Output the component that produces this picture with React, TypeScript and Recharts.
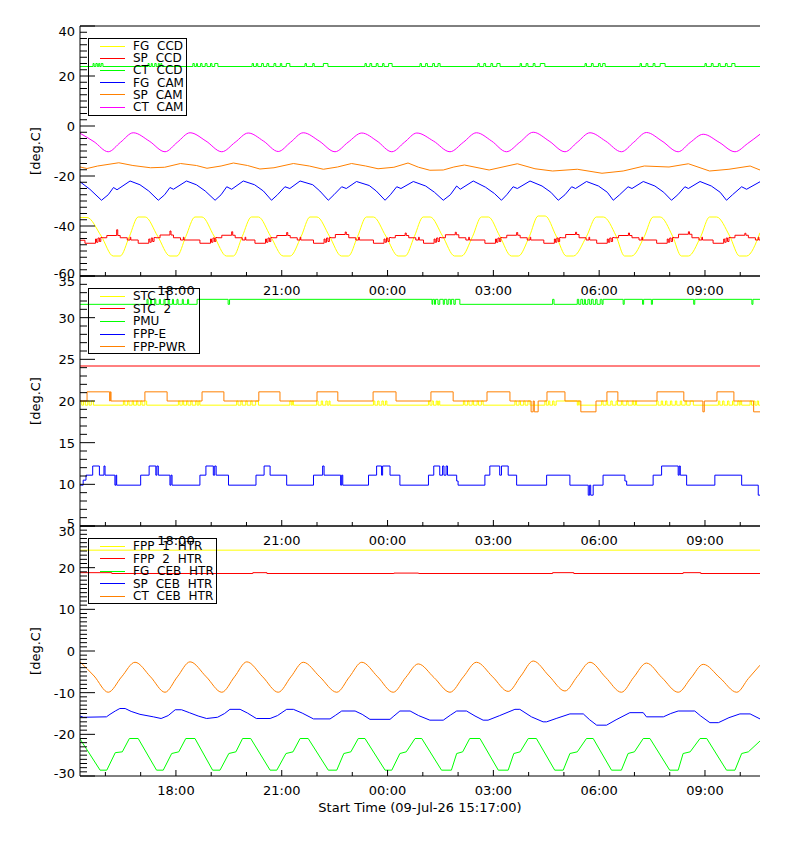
import React from 'react';
import { LineChart, Line, XAxis, YAxis, ReferenceLine, Legend } from 'recharts';

type Pt = [number, number];

const FONT = '"DejaVu Sans", sans-serif';
const START_MIN = 15 * 60 + 17; // 15:17
const T_END = 19.28; // hours after start
const X_LABEL = 'Start Time (09-Jul-26 15:17:00)';
const TIME_LABELS = ['18:00', '21:00', '00:00', '03:00', '06:00', '09:00'];

// ---- panel 1 (CCD / CAM) ----
const fgCcd: Pt[] = [[0,-36.6],[0.2,-36.6],[0.6,-44.0],[0.94,-52],[1.14,-52],[1.4,-44.2],[1.65,-36.4],[1.85,-36.4],[2.2,-44.0],[2.55,-52],[2.75,-52],[3.0,-44.2],[3.26,-36.4],[3.46,-36.4],[3.8,-44.0],[4.15,-52],[4.35,-52],[4.6,-44.2],[4.86,-36.4],[5.06,-36.4],[5.4,-44.0],[5.76,-52],[5.96,-52],[6.27,-44.2],[6.52,-36.4],[6.72,-36.4],[7.07,-44.0],[7.41,-52],[7.61,-52],[7.87,-44.2],[8.12,-36.4],[8.32,-36.4],[8.67,-44.0],[9.02,-52],[9.22,-52],[9.48,-44.2],[9.73,-36.4],[9.93,-36.4],[10.28,-44.0],[10.62,-52],[10.82,-52],[11.13,-44.2],[11.38,-36.4],[11.58,-36.4],[11.9,-44.0],[12.23,-52],[12.43,-52],[12.74,-44.2],[12.99,-36.0],[13.19,-36.0],[13.5,-44.0],[13.79,-52],[13.99,-52],[14.36,-44.2],[14.64,-36.4],[14.84,-36.4],[15.2,-44.0],[15.44,-52],[15.64,-52],[16.0,-44.2],[16.25,-36.4],[16.45,-36.4],[16.8,-44.0],[17.05,-52],[17.25,-52],[17.6,-44.2],[17.85,-36.4],[18.05,-36.4],[18.42,-44.0],[18.7,-52],[18.9,-52],[19.28,-42.7]];

const spCcd: Pt[] = [[0,-45.7],
  [0.14,-46.9],[0.44,-45.2],[0.47,-46.5],[0.51,-44.8],[0.55,-46.2],[0.59,-44.6],[0.64,-44.7],[0.76,-43.8],[1.04,-41.5],[1.07,-43.8],[1.14,-44.7],[1.34,-45.6],[1.42,-44.5],[1.44,-45.6],
  [1.65,-46.9],[1.95,-45.2],[1.98,-46.5],[2.02,-44.8],[2.06,-46.2],[2.10,-44.6],[2.15,-44.7],[2.27,-43.6],[2.55,-42.0],[2.58,-43.6],[2.65,-44.7],[2.85,-45.6],[2.93,-44.5],[2.95,-45.6],
  [3.40,-46.9],[3.70,-45.2],[3.73,-46.5],[3.77,-44.8],[3.81,-46.2],[3.85,-44.6],[3.90,-44.7],[4.02,-43.7],[4.30,-42.3],[4.33,-43.7],[4.40,-44.7],[4.60,-45.6],[4.68,-44.5],[4.70,-45.6],
  [4.96,-46.9],[5.26,-45.2],[5.29,-46.5],[5.33,-44.8],[5.37,-46.2],[5.41,-44.6],[5.46,-44.7],[5.58,-43.8],[5.86,-42.6],[5.89,-43.8],[5.96,-44.7],[6.16,-45.6],[6.24,-44.5],[6.26,-45.6],
  [6.62,-46.9],[6.92,-45.2],[6.95,-46.5],[6.99,-44.8],[7.03,-46.2],[7.07,-44.6],[7.12,-44.7],[7.24,-43.4],[7.52,-42.4],[7.55,-43.4],[7.62,-44.7],[7.82,-45.6],[7.90,-44.5],[7.92,-45.6],
  [8.32,-46.9],[8.62,-45.2],[8.65,-46.5],[8.69,-44.8],[8.73,-46.2],[8.77,-44.6],[8.82,-44.7],[8.94,-43.8],[9.22,-42.8],[9.25,-43.8],[9.32,-44.7],[9.52,-45.6],[9.60,-44.5],[9.62,-45.6],
  [9.74,-46.9],[10.04,-45.2],[10.07,-46.5],[10.11,-44.8],[10.15,-46.2],[10.19,-44.6],[10.24,-44.7],[10.36,-43.5],[10.64,-42.5],[10.67,-43.5],[10.74,-44.7],[10.94,-45.6],[11.02,-44.5],[11.04,-45.6],
  [11.48,-46.9],[11.78,-45.2],[11.81,-46.5],[11.85,-44.8],[11.89,-46.2],[11.93,-44.6],[11.98,-44.7],[12.10,-43.7],[12.38,-42.6],[12.41,-43.7],[12.48,-44.7],[12.68,-45.6],[12.76,-44.5],[12.78,-45.6],
  [13.15,-46.9],[13.45,-45.2],[13.48,-46.5],[13.52,-44.8],[13.56,-46.2],[13.60,-44.6],[13.65,-44.7],[13.77,-43.4],[14.05,-42.5],[14.08,-43.4],[14.15,-44.7],[14.35,-45.6],[14.43,-44.5],[14.45,-45.6],
  [14.65,-46.9],[14.95,-45.2],[14.98,-46.5],[15.02,-44.8],[15.06,-46.2],[15.10,-44.6],[15.15,-44.7],[15.27,-43.8],[15.55,-42.8],[15.58,-43.8],[15.65,-44.7],[15.85,-45.6],[15.93,-44.5],[15.95,-45.6],
  [16.35,-46.9],[16.65,-45.2],[16.68,-46.5],[16.72,-44.8],[16.76,-46.2],[16.80,-44.6],[16.85,-44.7],[16.97,-43.3],[17.25,-42.3],[17.28,-43.3],[17.35,-44.7],[17.55,-45.6],[17.63,-44.5],[17.65,-45.6],
  [17.95,-46.9],[18.25,-45.2],[18.28,-46.5],[18.32,-44.8],[18.36,-46.2],[18.40,-44.6],[18.45,-44.7],[18.57,-43.7],[18.85,-42.9],[18.88,-43.7],[18.95,-44.7],[19.15,-45.6],[19.23,-44.5],[19.25,-45.6],[19.28,-45.6]];

const ctCcd: Pt[] = [[0,23.8],
  [0.37,25],[0.40,23.8],[0.45,25],[0.49,23.8],[0.53,25],[0.56,23.8],[0.6,25],[0.65,23.8],
  [1.93,25],[1.96,23.8],[2.02,25],[2.05,23.8],[2.12,25],[2.16,23.8],[2.22,25],[2.25,23.8],[2.29,25],[2.32,23.8],
  [3.2,25],[3.24,23.8],[3.3,25],[3.33,23.8],[3.42,25],[3.46,23.8],[3.55,25],[3.6,23.8],[3.7,25],[3.74,23.8],[3.82,25],[3.91,23.8],
  [4.88,25],[4.92,23.8],[5.0,25],[5.04,23.8],[5.15,25],[5.2,23.8],[5.3,25],[5.35,23.8],[5.5,25],[5.55,23.8],[5.68,25],[5.72,23.8],[5.85,25],[5.95,23.8],
  [6.38,25],[6.42,23.8],[6.6,25],[6.64,23.8],[6.9,25],[7.03,23.8],
  [8.08,25],[8.12,23.8],[8.22,25],[8.27,23.8],[8.4,25],[8.45,23.8],[8.58,25],[8.62,23.8],[8.75,25],[8.85,23.8],
  [9.64,25],[9.68,23.8],[9.8,25],[9.85,23.8],[10.0,25],[10.05,23.8],[10.15,25],[10.21,23.8],
  [11.28,25],[11.32,23.8],[11.45,25],[11.5,23.8],[11.65,25],[11.7,23.8],[11.82,25],[11.91,23.8],
  [12.48,25],[12.52,23.8],[12.65,25],[12.7,23.8],[12.85,25],[12.9,23.8],[13.05,25],[13.18,23.8],
  [14.32,25],[14.36,23.8],[14.5,25],[14.55,23.8],[14.7,25],[14.75,23.8],[14.82,25],[14.89,23.8],
  [15.88,25],[15.92,23.8],[16.05,25],[16.1,23.8],[16.25,25],[16.3,23.8],[16.45,25],[16.59,23.8],
  [17.72,25],[17.76,23.8],[17.9,25],[17.95,23.8],[18.1,25],[18.15,23.8],[18.3,25],[18.35,23.8],[18.48,25],[18.57,23.8],
  [19.28,23.8]];

const fgCam: Pt[] = [[0,-22.3],[0.28,-25.3],[0.61,-29.7],[0.8,-27.5],[0.95,-24.6],[1.05,-25.5],[1.42,-22.0],[1.7,-23.5],[1.95,-26.0],[2.22,-29.7],[2.4,-27.5],[2.55,-24.6],[2.65,-25.3],[3.02,-22.0],[3.3,-23.5],[3.55,-26.0],[3.83,-29.7],[4.0,-27.5],[4.16,-24.3],[4.3,-25.3],[4.63,-22.0],[4.95,-23.5],[5.2,-26.0],[5.43,-29.7],[5.6,-27.5],[5.81,-24.3],[5.95,-25.0],[6.24,-22.0],[6.6,-23.5],[6.8,-26.0],[7.04,-29.7],[7.2,-27.5],[7.42,-24.3],[7.55,-25.0],[7.84,-22.2],[8.2,-23.8],[8.4,-26.0],[8.65,-29.7],[8.8,-27.5],[8.98,-24.3],[9.1,-25.0],[9.45,-22.2],[9.8,-24.0],[10.05,-26.5],[10.3,-29.7],[10.5,-27.5],[10.68,-24.0],[10.78,-25.3],[11.15,-22.0],[11.5,-24.5],[11.75,-27.0],[11.95,-29.7],[12.1,-27.5],[12.28,-24.3],[12.4,-25.0],[12.76,-22.0],[13.1,-24.0],[13.35,-26.5],[13.56,-29.7],[13.75,-27.5],[13.94,-24.3],[14.05,-25.0],[14.36,-22.2],[14.7,-24.0],[14.95,-26.5],[15.12,-29.7],[15.3,-27.5],[15.54,-24.3],[15.65,-25.0],[15.97,-22.2],[16.3,-24.0],[16.55,-26.5],[16.77,-29.7],[16.95,-27.5],[17.15,-24.3],[17.25,-25.0],[17.58,-22.2],[17.9,-24.0],[18.15,-26.5],[18.33,-29.7],[18.5,-27.5],[18.76,-24.3],[18.9,-25.3],[19.28,-22.3]];

const spCam: Pt[] = [[0,-16.4],[0.2,-17.0],[0.5,-16.0],[1.1,-14.7],[1.5,-15.8],[2.0,-16.7],[2.4,-16.5],[2.85,-15.0],[3.3,-15.8],[3.6,-16.9],[4.0,-16.0],[4.35,-14.8],[4.75,-15.8],[5.1,-17.2],[5.5,-16.7],[6.05,-15.0],[6.5,-16.0],[6.9,-17.3],[7.3,-16.4],[7.7,-15.0],[8.1,-16.0],[8.45,-17.1],[8.9,-16.5],[9.3,-14.8],[9.6,-16.5],[9.92,-17.7],[10.3,-17.6],[10.6,-16.4],[10.9,-15.6],[11.6,-17.6],[12.4,-15.1],[12.9,-17.1],[13.4,-18.0],[14.1,-17.3],[14.8,-18.9],[15.4,-18.0],[16.0,-16.0],[16.7,-16.4],[17.25,-15.1],[17.85,-18.0],[18.4,-17.3],[19.0,-16.0],[19.28,-17.6]];

const ctCam: Pt[] = [[0,-2.9],[0.4,-6.3],[0.8,-10.3],[1.15,-6.5],[1.51,-2.7],[1.96,-6.0],[2.41,-10.3],[2.76,-6.5],[3.12,-2.7],[3.57,-6.0],[4.02,-10.3],[4.4,-6.5],[4.77,-2.8],[5.2,-6.0],[5.62,-10.2],[5.97,-6.5],[6.33,-2.7],[6.78,-6.0],[7.23,-10.3],[7.6,-6.5],[7.99,-2.8],[8.42,-6.0],[8.84,-10.3],[9.2,-6.5],[9.55,-2.8],[10.02,-6.0],[10.49,-10.3],[10.87,-6.5],[11.24,-2.7],[11.67,-6.0],[12.09,-10.3],[12.47,-6.5],[12.85,-2.5],[13.3,-6.0],[13.75,-10.3],[14.1,-6.5],[14.46,-2.7],[14.9,-6.0],[15.35,-10.3],[15.7,-6.5],[16.06,-2.6],[16.5,-6.0],[16.96,-10.3],[17.3,-6.6],[17.67,-3.3],[18.12,-6.5],[18.57,-10.3],[18.93,-7.0],[19.28,-3.3]];

// ---- panel 2 (STC / PMU / FPP) ----
const stc1: Pt[] = [[0,20.0],[0.05,19.5],[0.1,20.0],[0.15,19.5],[0.22,20.0],[0.26,19.5],[0.32,20.0],[0.38,19.5],
  [1.23,20.0],[1.27,19.5],[1.35,20.0],[1.39,19.5],[1.48,20.0],[1.52,19.5],[1.6,20.0],[1.64,19.5],[1.72,20.0],[1.76,19.5],[1.84,20.0],[1.89,19.5],
  [2.79,20.0],[2.83,19.5],[2.9,20.0],[2.94,19.5],[3.02,20.0],[3.06,19.5],[3.14,20.0],[3.18,19.5],[3.28,20.0],[3.32,19.5],[3.37,20.0],[3.4,19.5],
  [4.44,20.0],[4.48,19.5],[4.56,20.0],[4.6,19.5],[4.7,20.0],[4.74,19.5],[4.84,20.0],[4.88,19.5],[4.98,20.0],[5.06,19.5],
  [5.95,20.0],[5.99,19.5],[6.02,20.0],[6.05,19.5],
  [6.71,20.0],[6.75,19.5],[6.84,20.0],[6.88,19.5],[6.97,20.0],[7.01,19.5],[7.06,20.0],[7.09,19.5],
  [8.32,20.0],[8.36,19.5],[8.44,20.0],[8.48,19.5],[8.56,20.0],[8.6,19.5],[8.66,20.0],[8.7,19.5],
  [9.88,20.0],[9.92,19.5],[9.98,20.0],[10.02,19.5],[10.1,20.0],[10.14,19.5],[10.17,20.0],[10.2,19.5],
  [10.87,20.0],[10.91,19.5],[10.99,20.0],[11.03,19.5],[11.12,20.0],[11.16,19.5],[11.26,20.0],[11.3,19.5],[11.38,20.0],[11.43,19.5],
  [12.33,20.0],[12.37,19.5],[12.45,20.0],[12.49,19.5],[12.58,20.0],[12.62,19.5],[12.7,20.0],[12.76,19.5],
  [13.18,20.0],[13.22,19.5],[13.28,20.0],[13.32,19.5],[13.4,20.0],[13.44,19.5],[13.5,20.0],[14.1,19.5],[14.13,20.0],[14.17,19.5],
  [14.79,20.0],[14.83,19.5],[14.92,20.0],[14.96,19.5],[15.05,20.0],[15.09,19.5],[15.2,20.0],[15.24,19.5],[15.35,20.0],[15.39,19.5],[15.5,20.0],[15.54,19.5],[15.66,20.0],[15.7,19.5],[15.75,20.0],[15.78,19.5],
  [16.35,20.0],[16.39,19.5],[16.48,20.0],[16.52,19.5],[16.6,20.0],[16.64,19.5],[16.74,20.0],[16.78,19.5],[16.88,20.0],[16.92,19.5],[17.02,20.0],[17.06,19.5],[17.16,20.0],[17.2,19.5],[17.3,20.0],[17.39,19.5],
  [18.1,20.0],[18.14,19.5],[18.22,20.0],[18.26,19.5],[18.36,20.0],[18.4,19.5],[18.5,20.0],[18.54,19.5],[18.65,20.0],[18.69,19.5],[18.72,20.0],[18.76,19.5],
  [19.0,20.0],[19.04,19.5],[19.1,20.0],[19.14,19.5],[19.2,20.0],[19.24,19.5],[19.28,19.5]];

const stc2: Pt[] = [[0,24.2],[19.28,24.2]];

const pmu: Pt[] = [[0,31.6],
  [1.9,32.2],[1.93,31.6],[2.0,32.2],[2.03,31.6],[2.12,32.2],[2.15,31.6],[2.25,32.2],[2.28,31.6],[2.38,32.2],[2.41,31.6],[2.5,32.2],[2.53,31.6],[2.62,32.2],[2.65,31.6],[2.75,32.2],[2.78,31.6],[2.9,32.2],[2.93,31.6],[3.05,32.2],[3.08,31.6],[3.32,32.2],
  [4.2,31.6],[4.24,32.2],
  [9.98,31.6],[10.0,32.2],[10.05,31.6],[10.08,32.2],[10.15,31.6],[10.2,32.2],[10.3,31.6],[10.33,32.2],[10.4,31.6],[10.44,32.2],[10.5,31.6],[10.53,32.2],[10.6,31.6],[10.64,32.2],[10.77,31.6],
  [13.4,32.2],[13.44,31.6],
  [14.1,32.2],[14.14,31.6],[14.2,32.2],[14.25,31.6],[14.3,32.2],[14.33,31.6],[14.4,32.2],[14.45,31.6],[14.5,32.2],[14.55,31.6],[14.62,32.2],[14.66,31.6],[14.75,32.2],[14.8,31.6],[14.83,32.2],
  [15.4,31.6],[15.43,32.2],[15.95,31.6],[15.98,32.2],[16.2,31.6],[16.23,32.2],[17.4,31.6],[17.43,32.2],[19.05,31.6],[19.08,32.2],[19.28,32.2]];

const fppE: Pt[] = [[0,9.9],[0.09,10.5],[0.17,11.1],[0.36,12.2],[0.55,11.1],[0.68,12.2],[0.71,11.1],[0.99,9.9],[1.02,11.1],[1.04,9.9],[1.72,11.1],[1.96,12.2],[2.15,11.1],[2.18,12.2],[2.22,11.1],[2.55,9.9],[2.58,11.1],[2.61,9.9],[3.40,11.1],[3.57,12.2],[3.78,11.1],[3.82,12.2],[3.86,11.1],[4.21,9.9],[4.99,11.1],[5.22,12.2],[5.39,11.1],[5.86,9.9],[6.62,11.1],[6.88,12.2],[6.92,11.1],[7.39,9.9],[7.42,11.1],[7.45,9.9],[8.18,11.1],[8.41,12.2],[8.55,11.1],[8.58,12.2],[8.79,11.1],[9.07,9.9],[9.88,11.1],[10.03,12.2],[10.2,11.1],[10.28,12.2],[10.32,11.1],[10.38,12.2],[10.42,11.1],[10.68,10.4],[10.72,9.9],[11.48,11.1],[11.62,12.2],[11.9,11.1],[11.95,12.2],[12.14,11.1],[12.38,9.9],[13.23,11.1],[13.89,9.9],[14.41,8.7],[14.45,9.9],[14.48,8.7],[14.55,9.9],[14.83,11.1],[15.45,10.4],[15.5,9.9],[16.25,11.1],[16.49,12.2],[16.96,11.1],[16.99,12.2],[17.02,11.1],[17.2,9.9],[18.0,11.1],[18.76,9.9],[19.23,8.7],[19.28,8.7]];

const fppPwr: Pt[] = [[0,20.0],[0.2,21.1],[0.84,20.0],[0.86,21.1],[0.88,20.0],[1.84,21.1],[2.47,20.0],[3.46,21.1],[4.08,20.0],[5.07,21.1],[5.67,20.0],[6.72,21.1],[7.31,20.0],[8.31,21.1],[8.96,20.0],[9.95,21.1],[10.58,20.0],[11.54,21.1],[12.19,20.0],[12.79,18.7],[12.85,20.0],[12.88,18.7],[12.99,20.0],[13.24,21.1],[13.75,20.0],[14.2,18.7],[14.63,20.0],[14.94,21.1],[15.25,20.0],[16.36,21.1],[17.12,20.0],[17.66,18.7],[17.7,20.0],[18.06,21.1],[18.54,20.0],[19.1,18.7],[19.28,18.7]];

// ---- panel 3 (heaters) ----
const fpp1Htr: Pt[] = [[0,24.2],[19.28,24.2]];
const fpp2Htr: Pt[] = [[0,18.8],[0.9,18.6],[4.9,18.8],[5.3,18.6],[8.9,18.7],[9.6,18.6],[13.4,18.8],[14.0,18.6],[17.1,18.8],[17.6,18.6],[19.28,18.6]];
const fgCebHtr: Pt[] = [[0,-21.1],[0.57,-28.6],[0.76,-28.6],[1.0,-24.4],[1.2,-24.2],[1.4,-21.0],[1.65,-21.0],[2.17,-28.6],[2.36,-28.6],[2.6,-24.6],[2.8,-24.2],[3.0,-21.0],[3.26,-21.0],[3.76,-28.6],[3.97,-28.6],[4.22,-24.6],[4.42,-24.2],[4.61,-21.0],[4.84,-21.0],[5.39,-28.6],[5.58,-28.6],[5.84,-24.6],[6.04,-24.2],[6.24,-21.0],[6.47,-21.0],[7.04,-28.6],[7.28,-28.6],[7.48,-24.6],[7.68,-24.2],[7.89,-21.0],[8.08,-21.0],[8.65,-28.6],[8.84,-28.6],[9.07,-24.6],[9.25,-24.2],[9.5,-21.0],[9.69,-21.0],[10.25,-28.6],[10.53,-28.6],[10.68,-24.6],[10.85,-24.2],[11.05,-21.0],[11.34,-21.0],[11.86,-28.6],[12.14,-28.6],[12.3,-24.6],[12.48,-24.2],[12.71,-21.0],[12.94,-21.0],[13.46,-28.6],[13.7,-28.6],[13.89,-24.6],[14.1,-24.2],[14.36,-21.0],[14.55,-21.0],[15.07,-28.6],[15.35,-28.6],[15.54,-24.6],[15.72,-24.2],[15.97,-21.0],[16.16,-21.0],[16.72,-28.6],[16.96,-28.6],[17.1,-24.6],[17.3,-24.2],[17.58,-21.0],[17.77,-21.0],[18.33,-28.6],[18.57,-28.6],[18.76,-24.6],[18.95,-24.2],[19.28,-21.6]];
const spCebHtr: Pt[] = [[0,-15.6],[0.1,-15.9],[0.75,-15.8],[0.85,-15.2],[1.0,-14.4],[1.13,-13.8],[1.28,-13.8],[1.45,-14.5],[1.7,-15.2],[2.08,-15.8],[2.3,-16.2],[2.5,-15.5],[2.7,-14.1],[2.88,-14.1],[3.1,-14.8],[3.35,-15.6],[3.59,-16.2],[3.9,-15.9],[4.1,-15.0],[4.25,-14.0],[4.54,-14.0],[4.75,-14.9],[5.0,-16.2],[5.39,-16.2],[5.6,-15.5],[5.86,-14.0],[6.05,-14.0],[6.3,-14.9],[6.62,-16.3],[7.09,-16.3],[7.25,-15.4],[7.42,-14.4],[7.8,-14.4],[8.0,-15.2],[8.22,-16.4],[8.79,-16.4],[8.9,-15.6],[9.07,-14.4],[9.36,-14.4],[9.6,-15.5],[9.92,-16.6],[10.3,-16.6],[10.5,-15.4],[10.68,-14.4],[10.96,-14.4],[11.2,-15.6],[11.43,-16.6],[11.57,-16.6],[11.9,-15.5],[12.33,-14.0],[12.47,-14.0],[12.8,-15.8],[13.13,-17.0],[13.23,-17.0],[13.5,-16.2],[13.89,-15.1],[14.27,-15.1],[14.45,-16.5],[14.65,-17.8],[14.93,-17.8],[15.2,-16.5],[15.59,-14.8],[15.97,-14.8],[16.06,-15.8],[16.54,-15.8],[16.75,-15.0],[16.96,-14.4],[17.43,-14.4],[17.6,-15.6],[17.86,-17.2],[18.1,-17.2],[18.4,-16.0],[18.71,-15.1],[19.0,-15.1],[19.28,-16.3]];
const ctCebHtr: Pt[] = [[0,-2.6],[0.4,-6.0],[0.8,-9.9],[1.18,-6.2],[1.56,-2.7],[2.0,-6.2],[2.41,-9.9],[2.76,-6.2],[3.12,-2.6],[3.58,-6.2],[4.02,-9.9],[4.38,-6.2],[4.73,-2.6],[5.18,-6.2],[5.62,-9.9],[5.98,-6.2],[6.33,-2.7],[6.8,-6.2],[7.28,-9.9],[7.64,-6.2],[7.99,-2.7],[8.44,-6.2],[8.88,-9.9],[9.24,-6.3],[9.59,-3.1],[10.04,-6.4],[10.49,-9.9],[10.87,-6.2],[11.24,-2.7],[11.7,-6.2],[12.14,-9.7],[12.5,-6.0],[12.85,-2.4],[13.3,-6.0],[13.75,-9.6],[14.1,-6.1],[14.46,-2.7],[14.9,-6.3],[15.35,-9.9],[15.7,-6.3],[16.06,-2.9],[16.5,-6.4],[16.96,-9.9],[17.32,-6.5],[17.67,-3.2],[18.15,-6.5],[18.62,-9.9],[18.95,-6.6],[19.28,-3.4]];

const YELLOW = '#ffff00';
const RED = '#ff0000';
const GREEN = '#00ff00';
const BLUE = '#0000ff';
const ORANGE = '#ff8000';
const MAGENTA = '#ff00ff';

type Curve = 'linear' | 'monotone' | 'stepAfter';
interface Series { name: string; color: string; pts: Pt[]; type: Curve }

const range = (a: number, b: number, s: number) => {
  const out: number[] = [];
  for (let v = a; v <= b + 1e-9; v += s) out.push(Math.round(v * 100) / 100);
  return out;
};

const hourTicks = range(43 / 60, T_END, 1);

const clock = (t: number) => {
  const m = Math.round(START_MIN + t * 60) % 1440;
  const hh = String(Math.floor(m / 60)).padStart(2, '0');
  const mm = String(m % 60).padStart(2, '0');
  return `${hh}:${mm}`;
};

const XTick = (props: any) => {
  const { x, y, payload } = props;
  const lab = clock(payload.value);
  const major = TIME_LABELS.includes(lab);
  return (
    <g>
      <line x1={x} x2={x} y1={y} y2={y - (major ? 6 : 4)} stroke="#000" />
      {major && (
        <text x={x} y={y + 19} textAnchor="middle" fontSize={13} fontFamily={FONT} fill="#000">{lab}</text>
      )}
    </g>
  );
};

const makeYTick = (majors: number[], lo: number, hi: number, side: 'l' | 'r') => (props: any) => {
  const { x, y, payload } = props;
  const v = payload.value;
  const major = majors.includes(v);
  const dir = side === 'l' ? 1 : -1;
  const shift = v === hi ? 5 : v === lo ? -3 : 0;
  return (
    <g>
      <line x1={x} x2={x + dir * (major ? 15 : 7)} y1={y} y2={y} stroke="#000" />
      {side === 'l' && major && (
        <text x={x - 5} y={y + 5 + shift} textAnchor="end" fontSize={13} fontFamily={FONT} fill="#000">{v}</text>
      )}
    </g>
  );
};

const LegendBox = ({ items, w, h, gap }: any) => (
  <div style={{ width: w, height: h, border: '1px solid #000', boxSizing: 'border-box', position: 'relative', fontFamily: FONT, fontSize: 12, color: '#000' }}>
    {items.map((s: Series, i: number) => (
      <div key={s.name} style={{ position: 'absolute', left: 11, top: i * gap, height: 14, display: 'flex', alignItems: 'center' }}>
        <span style={{ display: 'inline-block', width: 25, borderTop: `1px solid ${s.color}` }} />
        <span style={{ marginLeft: 8, wordSpacing: 4, whiteSpace: 'pre', lineHeight: '14px' }}>{s.name}</span>
      </div>
    ))}
  </div>
);

interface PanelProps {
  top: number;
  lo: number;
  hi: number;
  minor: number;
  major: number;
  series: Series[];
  legend: { w: number; h: number; gap: number };
  last?: boolean;
}

const Panel = ({ top, lo, hi, minor, major, series, legend, last }: PanelProps) => {
  const ticks = range(lo, hi, minor);
  const majors = range(lo, hi, major);
  const xh = last ? 50 : 30;
  return (
    <div style={{ position: 'absolute', left: 0, top }}>
      <LineChart width={792} height={18 + 250 + xh} margin={{ top: 18, right: 40, bottom: 0, left: 12 }}>
        <XAxis
          dataKey="t"
          type="number"
          domain={[0, T_END]}
          allowDataOverflow
          ticks={hourTicks}
          interval={0}
          tick={XTick}
          tickLine={false}
          tickSize={0}
          tickMargin={0}
          height={xh}
          axisLine={{ stroke: '#000' }}
          label={last ? { value: X_LABEL, position: 'insideBottom', offset: 14, fontSize: 13, fontFamily: FONT, fill: '#000' } : undefined}
        />
        <YAxis
          yAxisId="l"
          domain={[lo, hi]}
          allowDataOverflow
          ticks={ticks}
          interval={0}
          tick={makeYTick(majors, lo, hi, 'l')}
          tickLine={false}
          tickSize={0}
          tickMargin={0}
          width={60}
          axisLine={{ stroke: '#000' }}
          label={{ value: '[deg.C]', angle: -90, position: 'center', dx: -15, fontSize: 13, fontFamily: FONT, fill: '#000' }}
        />
        <YAxis
          yAxisId="r"
          orientation="right"
          domain={[lo, hi]}
          allowDataOverflow
          ticks={ticks}
          interval={0}
          tick={makeYTick(majors, lo, hi, 'r')}
          tickLine={false}
          tickSize={0}
          tickMargin={0}
          width={0}
          axisLine={{ stroke: '#000' }}
        />
        <ReferenceLine yAxisId="l" y={hi} stroke="#000" />
        {series.map((s, i) => (
          <Line
            key={s.name}
            yAxisId={i === 0 ? 'r' : 'l'}
            data={s.pts.map(([t, v]) => ({ t, v }))}
            dataKey="v"
            name={s.name}
            type={s.type}
            stroke={s.color}
            strokeWidth={1}
            dot={false}
            activeDot={false}
            isAnimationActive={false}
          />
        ))}
        <Legend
          layout="horizontal"
          verticalAlign="middle"
          align="center"
          wrapperStyle={{ left: 80, top: 30, width: legend.w, height: legend.h }}
          content={() => <LegendBox items={series} {...legend} />}
        />
      </LineChart>
    </div>
  );
};

const panel1: Series[] = [
  { name: 'FG CCD', color: YELLOW, pts: fgCcd, type: 'monotone' },
  { name: 'SP CCD', color: RED, pts: spCcd, type: 'stepAfter' },
  { name: 'CT CCD', color: GREEN, pts: ctCcd, type: 'stepAfter' },
  { name: 'FG CAM', color: BLUE, pts: fgCam, type: 'linear' },
  { name: 'SP CAM', color: ORANGE, pts: spCam, type: 'linear' },
  { name: 'CT CAM', color: MAGENTA, pts: ctCam, type: 'monotone' },
];

const panel2: Series[] = [
  { name: 'STC 1', color: YELLOW, pts: stc1, type: 'stepAfter' },
  { name: 'STC 2', color: RED, pts: stc2, type: 'linear' },
  { name: 'PMU', color: GREEN, pts: pmu, type: 'stepAfter' },
  { name: 'FPP-E', color: BLUE, pts: fppE, type: 'stepAfter' },
  { name: 'FPP-PWR', color: ORANGE, pts: fppPwr, type: 'stepAfter' },
];

const panel3: Series[] = [
  { name: 'FPP 1 HTR', color: YELLOW, pts: fpp1Htr, type: 'linear' },
  { name: 'FPP 2 HTR', color: RED, pts: fpp2Htr, type: 'stepAfter' },
  { name: 'FG CEB HTR', color: GREEN, pts: fgCebHtr, type: 'linear' },
  { name: 'SP CEB HTR', color: BLUE, pts: spCebHtr, type: 'linear' },
  { name: 'CT CEB HTR', color: ORANGE, pts: ctCebHtr, type: 'monotone' },
];

export default function App() {
  return (
    <div style={{ position: 'relative', width: 792, height: 834, fontFamily: FONT, background: '#fff' }}>
      <Panel top={500} lo={-30} hi={30} minor={1} major={10} series={panel3} legend={{ w: 129, h: 66, gap: 12.5 }} last />
      <Panel top={250} lo={5} hi={35} minor={1} major={5} series={panel2} legend={{ w: 112, h: 66, gap: 12.7 }} />
      <Panel top={0} lo={-60} hi={40} minor={2.5} major={20} series={panel1} legend={{ w: 99, h: 78, gap: 12.2 }} />
    </div>
  );
}
